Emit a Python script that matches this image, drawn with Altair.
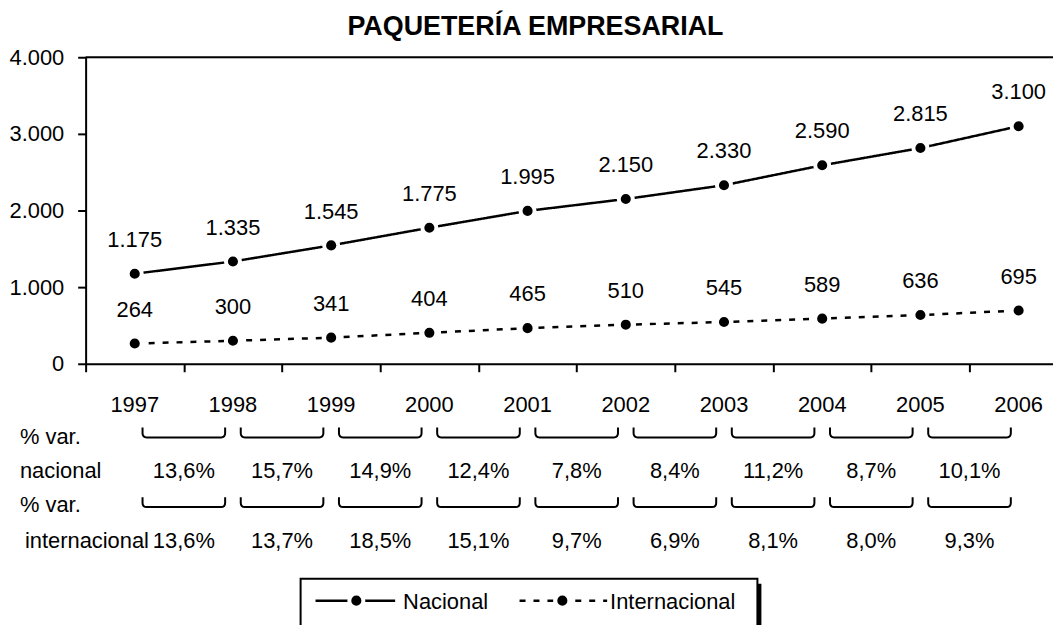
import altair as alt
import pandas as pd

# ---------------- data ----------------
years = ["1997", "1998", "1999", "2000", "2001", "2002", "2003", "2004", "2005", "2006"]
nacional = [1175, 1335, 1545, 1775, 1995, 2150, 2330, 2590, 2815, 3100]
internacional = [264, 300, 341, 404, 465, 510, 545, 589, 636, 695]
var_nacional = ["13,6%", "15,7%", "14,9%", "12,4%", "7,8%", "8,4%", "11,2%", "8,7%", "10,1%"]
var_internacional = ["13,6%", "13,7%", "18,5%", "15,1%", "9,7%", "6,9%", "8,1%", "8,0%", "9,3%"]
row_labels = ["% var.", "nacional", "% var.", "internacional"]
series_names = ["Nacional", "Internacional"]
y_ticks = [0, 1000, 2000, 3000, 4000]
title_text = "PAQUETERÍA EMPRESARIAL"

# ---------------- layout / style ----------------
FONT = "Liberation Sans"
FS = 22
PLOT_W, PLOT_H = 972, 308
BRACKET = "M -1 -0.24 L -1 -0.1 Q -1 0 -0.9 0 L 0.9 0 Q 1 0 1 -0.1 L 1 -0.24"
DOT = dict(size=200, fill="black", stroke="white", strokeWidth=4, opacity=1)


def fmt(v):
    return f"{v:,}".replace(",", ".")


rows = []
for name, vals in zip(series_names, [nacional, internacional]):
    for i, (yr, v) in enumerate(zip(years, vals)):
        rows.append({"idx": i, "year": yr, "serie": name, "value": v, "label": fmt(v)})
df = pd.DataFrame(rows)

df_years = pd.DataFrame({"idx": list(range(len(years))), "year": years})
df_var = pd.DataFrame({
    "mid": [i + 0.5 for i in range(len(var_nacional))],
    "nac": var_nacional,
    "int": var_internacional,
})
one = pd.DataFrame({"a": [0]})

x_scale = alt.Scale(domain=[-0.5, 9.35], nice=False, zero=False)
y_scale = alt.Scale(domain=[0, 4000], nice=False)
x_axis = alt.Axis(values=[i - 0.5 for i in range(10)], labels=False, title=None,
                  tickSize=8, tickWidth=2, tickColor="black", domainColor="black",
                  domainWidth=2, grid=False)
y_axis = alt.Axis(values=y_ticks, labelExpr="replace(format(datum.value, ','), ',', '.')",
                  title=None, tickSize=8, tickWidth=2, tickColor="black",
                  domainColor="black", domainWidth=2, grid=False, labelFont=FONT,
                  labelFontSize=FS, labelColor="black", labelPadding=14)


def X(field):
    return alt.X(field, scale=x_scale, axis=x_axis)


def Y(field):
    return alt.Y(field, scale=y_scale, axis=y_axis)


lines = alt.Chart(df).mark_line(color="black", strokeWidth=2.5).encode(
    x=X("idx:Q"), y=Y("value:Q"),
    strokeDash=alt.StrokeDash("serie:N", scale=alt.Scale(domain=series_names, range=[[1, 0], [6, 8]]), legend=None),
    detail="serie:N",
)
pts = alt.Chart(df).mark_circle(**DOT).encode(x=X("idx:Q"), y=Y("value:Q"))
labels = alt.Chart(df).mark_text(font=FONT, fontSize=FS, color="black", baseline="alphabetic", dy=-27).encode(
    x=X("idx:Q"), y=Y("value:Q"), text="label:N"
)
top_rule = alt.Chart(one).mark_rule(color="black", strokeWidth=2).encode(
    y=alt.Y(datum=4000, scale=y_scale, axis=y_axis))

year_text = alt.Chart(df_years).mark_text(font=FONT, fontSize=FS, color="black", baseline="alphabetic").encode(
    x=X("idx:Q"), y=alt.value(356), text="year:N"
)

br1 = alt.Chart(df_var).mark_point(shape=BRACKET, size=83 ** 2, filled=False, stroke="black",
                                   strokeWidth=2, opacity=1).encode(x=X("mid:Q"), y=alt.value(382))
br2 = alt.Chart(df_var).mark_point(shape=BRACKET, size=83 ** 2, filled=False, stroke="black",
                                   strokeWidth=2, opacity=1).encode(x=X("mid:Q"), y=alt.value(452))
pct1 = alt.Chart(df_var).mark_text(font=FONT, fontSize=FS, color="black", baseline="alphabetic").encode(
    x=X("mid:Q"), y=alt.value(423), text="nac:N")
pct2 = alt.Chart(df_var).mark_text(font=FONT, fontSize=FS, color="black", baseline="alphabetic").encode(
    x=X("mid:Q"), y=alt.value(493), text="int:N")

row_pos = [(-66, 389), (-66, 423), (-66, 457), (-61, 493)]
row_layers = []
for txt, (px, py) in zip(row_labels, row_pos):
    row_layers.append(
        alt.Chart(pd.DataFrame({"t": [txt]})).mark_text(font=FONT, fontSize=FS, color="black",
                                                       align="left", baseline="alphabetic").encode(
            x=alt.value(px), y=alt.value(py), text="t:N")
    )

title = alt.Chart(pd.DataFrame({"t": [title_text]})).mark_text(
    font=FONT, fontWeight="bold", fontSize=27, color="black", baseline="alphabetic").encode(
    x=alt.value(452), y=alt.value(-22), text="t:N")

# legend (drawn manually)
shadow = alt.Chart(one).mark_rect(fill="black").encode(
    x=alt.value(220), x2=alt.value(679), y=alt.value(529), y2=alt.value(600))
box = alt.Chart(one).mark_rect(fill="white", stroke="black", strokeWidth=2).encode(
    x=alt.value(216), x2=alt.value(675), y=alt.value(524), y2=alt.value(600))
leg_layers = [shadow, box]
leg_geo = [(231, 311, 272, 319, [1, 0]), (436, 524, 479, 527, [6, 8])]
for name, (x0, x1, xd, xt, dash) in zip(series_names, leg_geo):
    leg_layers.append(alt.Chart(one).mark_rule(color="black", strokeWidth=2.5, strokeDash=dash).encode(
        x=alt.value(x0), x2=alt.value(x1), y=alt.value(546)))
    leg_layers.append(alt.Chart(one).mark_circle(**DOT).encode(x=alt.value(xd), y=alt.value(546)))
    leg_layers.append(alt.Chart(pd.DataFrame({"t": [name]})).mark_text(
        font=FONT, fontSize=FS, color="black", align="left", baseline="alphabetic").encode(
        x=alt.value(xt), y=alt.value(554), text="t:N"))

chart = alt.layer(
    lines, top_rule, pts, labels, year_text, br1, br2, pct1, pct2, *row_layers, title, *leg_layers
).properties(
    width=PLOT_W, height=PLOT_H,
    autosize=alt.AutoSizeParams(type="none"),
    padding={"left": 78, "top": 48, "right": 0, "bottom": 261},
).configure_view(stroke=None).configure(background="white")

chart.save("out.html", embed_options={"renderer": "svg", "actions": False})
